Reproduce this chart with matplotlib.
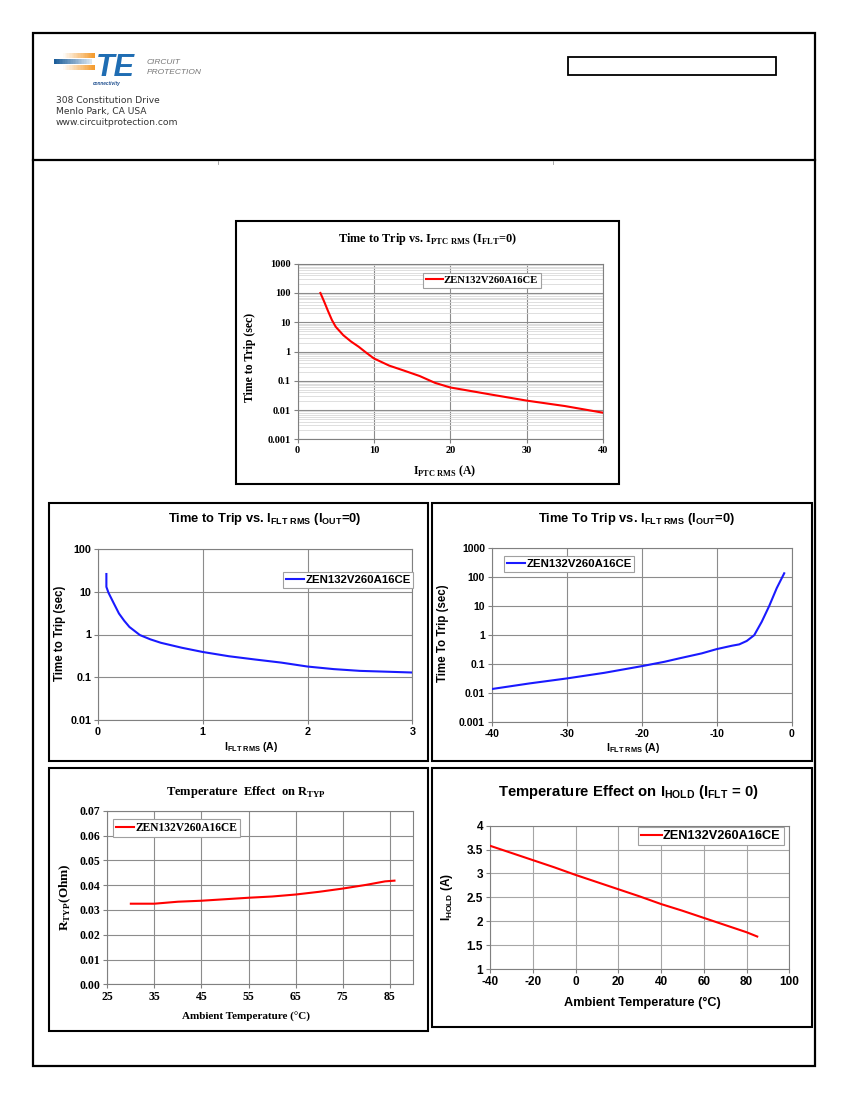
import matplotlib
matplotlib.use('Agg')
import matplotlib.pyplot as plt
from matplotlib.patches import Rectangle
from matplotlib.ticker import LogLocator, NullFormatter, FixedLocator
import numpy as np

plt.rcParams['axes.unicode_minus'] = False

W, H = 850, 1100

# ---------------- data ----------------
ptc_current = [3.0, 3.5, 4.0, 4.5, 5, 6, 7, 8, 9, 10, 12, 14, 16, 18, 20, 22, 25, 30, 35, 40]
ptc_time = [100, 50, 24, 12, 7.0, 3.6, 2.2, 1.46, 0.91, 0.58, 0.33, 0.22, 0.145, 0.085,
            0.059, 0.048, 0.035, 0.021, 0.0137, 0.0081]

flt_pos_current = [0.08, 0.08, 0.1, 0.15, 0.2, 0.25, 0.3, 0.4, 0.5, 0.6, 0.8, 1.0, 1.25,
                   1.5, 1.75, 2.0, 2.25, 2.5, 2.75, 3.0]
flt_pos_time = [26, 13, 9.5, 5.4, 3.1, 2.1, 1.5, 0.97, 0.77, 0.64, 0.49, 0.39, 0.31,
                0.26, 0.22, 0.178, 0.155, 0.141, 0.135, 0.129]

flt_neg_current = [-40, -35, -30, -25, -20, -17, -15, -12, -10, -8, -7, -6, -5, -4, -3, -2, -1]
flt_neg_time = [0.0138, 0.0215, 0.032, 0.05, 0.085, 0.12, 0.158, 0.235, 0.33, 0.43, 0.48,
                0.63, 1.0, 2.9, 10.2, 42, 137]

temp_r = [30, 35, 40, 45, 50, 55, 60, 65, 70, 75, 80, 84, 86]
r_typ = [0.0325, 0.0325, 0.0333, 0.0337, 0.0343, 0.0349, 0.0354, 0.0362, 0.0373, 0.0386,
         0.0401, 0.0415, 0.0418]

temp_i = [-40, -30, -20, -10, 0, 10, 20, 30, 40, 50, 60, 70, 80, 85]
i_hold = [3.58, 3.43, 3.28, 3.13, 2.97, 2.82, 2.67, 2.52, 2.36, 2.22, 2.07, 1.92, 1.77, 1.68]

part_name = 'ZEN132V260A16CE'

log_ticks_6 = [0.001, 0.01, 0.1, 1, 10, 100, 1000]
log_labels_6 = ['0.001', '0.01', '0.1', '1', '10', '100', '1000']
log_ticks_4 = [0.01, 0.1, 1, 10, 100]
log_labels_4 = ['0.01', '0.1', '1', '10', '100']

SERIF = 'Liberation Serif'
SANS = 'Liberation Sans'
RED = '#ff0000'
BLUE = '#1a1aff'
GRID = '#8c8c8c'
SPINE = '#808080'

fig = plt.figure(figsize=(W / 100, H / 100), dpi=100)
fig.patch.set_facecolor('white')

bg = fig.add_axes([0, 0, 1, 1], zorder=0)
bg.set_xlim(0, W)
bg.set_ylim(H, 0)
bg.axis('off')


def rect(x0, y0, x1, y1, lw=1.5, ec='black'):
    bg.add_patch(Rectangle((x0, y0), x1 - x0, y1 - y0, fill=False, lw=lw, ec=ec))


def add_ax(x0, y0, x1, y1):
    ax = fig.add_axes([x0 / W, 1 - y1 / H, (x1 - x0) / W, (y1 - y0) / H], zorder=2)
    ax.set_facecolor('white')
    for s in ax.spines.values():
        s.set_color(SPINE)
        s.set_linewidth(0.8)
    return ax, (x0, y0, x1, y1)


def style_ticks(ax, family, size):
    ax.tick_params(labelsize=size, length=3, width=0.8, color=SPINE, pad=2)
    for lab in ax.get_xticklabels() + ax.get_yticklabels():
        lab.set_fontfamily(family)
        lab.set_fontweight('bold')


def place_legend(ax, box, lx, ly, family, size):
    x0, y0, x1, y1 = box
    fx = (lx - x0) / (x1 - x0)
    fy = (y1 - ly) / (y1 - y0)
    leg = ax.legend(loc='upper left', bbox_to_anchor=(fx, fy), borderaxespad=0,
                    fancybox=False, framealpha=1, edgecolor='#a0a0a0',
                    prop={'family': family, 'weight': 'bold', 'size': size},
                    handlelength=1.6, handletextpad=0.1, borderpad=0.25)
    leg.get_frame().set_linewidth(0.8)
    return leg


# ---------------- page ----------------
rect(33, 33, 815, 1066, lw=1.6)
bg.plot([33, 815], [160, 160], color='black', lw=1.6)
bg.plot([218, 218], [161, 164], color='#999999', lw=0.6)
bg.plot([553, 553], [161, 164], color='#999999', lw=0.6)
rect(568, 57, 776, 75, lw=1.3)


def stripe(x0, x1, y0, y1, c0, c1, n=24):
    c0 = np.array(matplotlib.colors.to_rgb(c0))
    c1 = np.array(matplotlib.colors.to_rgb(c1))
    w = (x1 - x0) / n
    for i in range(n):
        t = i / (n - 1)
        bg.add_patch(Rectangle((x0 + i * w, y0), w + 0.3, y1 - y0, lw=0,
                               fc=tuple(c0 * (1 - t) + c1 * t)))


stripe(62, 95, 53, 57.5, '#ffffff', '#f39a2c')
stripe(54, 92, 59, 63.5, '#1c5d99', '#d9e6f2')
stripe(62, 95, 65, 69.5, '#ffffff', '#f39a2c')
bg.text(96, 75.5, 'TE', family=SANS, weight='bold', style='italic', size=22,
        color='#1f6db3', ha='left', va='baseline')
bg.text(147, 62, 'CIRCUIT', family=SANS, style='italic', size=6, color='#777777',
        ha='left', va='center')
bg.text(147, 72.5, 'PROTECTION', family=SANS, style='italic', size=6, color='#777777',
        ha='left', va='center')
bg.text(93, 83, 'connectivity', family=SANS, style='italic', weight='bold', size=3.4,
        color='#1f4f8f', ha='left', va='center')
for i, line in enumerate(['308 Constitution Drive', 'Menlo Park, CA USA',
                          'www.circuitprotection.com']):
    bg.text(56, 100.5 + i * 11.2, line, family='DejaVu Sans', size=6.6, color='#333333',
            ha='left', va='center')

# ---------------- chart 1: top ----------------
rect(236, 221, 619, 484, lw=1.5)
ax1, b1 = add_ax(297.5, 263.7, 603, 439.3)
ax1.set_yscale('log')
ax1.plot(ptc_current, ptc_time, color=RED, lw=1.5, label=part_name, zorder=3)
ax1.set_xlim(0, 40)
ax1.set_ylim(0.001, 1000)
ax1.set_xticks([0, 10, 20, 30, 40])
ax1.set_yticks(log_ticks_6, log_labels_6)
ax1.yaxis.set_minor_locator(LogLocator(base=10, subs=range(2, 10), numticks=20))
ax1.yaxis.set_minor_formatter(NullFormatter())
ax1.grid(True, which='minor', axis='y', color='#d9d9d9', lw=0.6)
ax1.grid(True, which='major', color=GRID, lw=0.8)
ax1.tick_params(which='minor', length=0)
ax1.set_axisbelow(True)
style_ticks(ax1, SERIF, 7.5)
place_legend(ax1, b1, 423, 273, SERIF, 7.7)
bg.text(428, 239, r'Time to Trip vs. I$_{\mathregular{PTC\ RMS}}$ (I$_{\mathregular{FLT}}$=0)',
        family=SERIF, weight='bold', size=8.8, ha='center', va='center')
bg.text(250, 357, 'Time to Trip (sec)', family=SERIF, weight='bold', size=8.5,
        rotation=90, ha='center', va='center')
bg.text(445, 471, r'I$_{\mathregular{PTC\ RMS}}$ (A)', family=SERIF, weight='bold', size=8.5,
        ha='center', va='center')

# ---------------- chart 2: middle left ----------------
rect(49, 503, 428, 761, lw=1.5)
ax2, b2 = add_ax(98, 549, 412.3, 720)
ax2.set_yscale('log')
ax2.plot(flt_pos_current, flt_pos_time, color=BLUE, lw=1.5, label=part_name, zorder=3)
ax2.set_xlim(0, 3)
ax2.set_ylim(0.01, 100)
ax2.set_xticks([0, 1, 2, 3])
ax2.set_yticks(log_ticks_4, log_labels_4)
ax2.yaxis.set_minor_locator(FixedLocator([]))
ax2.grid(True, which='major', color=GRID, lw=0.8)
ax2.set_axisbelow(True)
style_ticks(ax2, SANS, 7.8)
place_legend(ax2, b2, 283, 572, SANS, 8.2)
bg.text(265, 519, r'Time to Trip vs. I$_{\mathregular{FLT\ RMS}}$ (I$_{\mathregular{OUT}}$=0)',
        family=SANS, weight='bold', size=9.3, ha='center', va='center')
bg.text(60, 633, 'Time to Trip (sec)', family=SANS, weight='bold', size=8.3,
        rotation=90, ha='center', va='center')
bg.text(251, 747, r'I$_{\mathregular{FLT\ RMS}}$ (A)', family=SANS, weight='bold', size=7.6,
        ha='center', va='center')

# ---------------- chart 3: middle right ----------------
rect(432, 503, 812, 761, lw=1.5)
ax3, b3 = add_ax(492, 548.3, 791.7, 722)
ax3.set_yscale('log')
ax3.plot(flt_neg_current, flt_neg_time, color=BLUE, lw=1.5, label=part_name, zorder=3)
ax3.set_xlim(-40, 0)
ax3.set_ylim(0.001, 1000)
ax3.set_xticks([-40, -30, -20, -10, 0])
ax3.set_yticks(log_ticks_6, log_labels_6)
ax3.yaxis.set_minor_locator(FixedLocator([]))
ax3.grid(True, which='major', color=GRID, lw=0.8)
ax3.set_axisbelow(True)
style_ticks(ax3, SANS, 7.5)
place_legend(ax3, b3, 504, 556, SANS, 8.2)
bg.text(637, 519, r'Time To Trip vs. I$_{\mathregular{FLT\ RMS}}$ (I$_{\mathregular{OUT}}$=0)',
        family=SANS, weight='bold', size=9.3, ha='center', va='center')
bg.text(443, 633, 'Time To Trip (sec)', family=SANS, weight='bold', size=8.3,
        rotation=90, ha='center', va='center')
bg.text(633, 748, r'I$_{\mathregular{FLT\ RMS}}$ (A)', family=SANS, weight='bold', size=7.6,
        ha='center', va='center')

# ---------------- chart 4: bottom left ----------------
rect(49, 768, 428, 1031, lw=1.5)
ax4, b4 = add_ax(107.3, 810.7, 413.3, 984.3)
ax4.plot(temp_r, r_typ, color=RED, lw=1.5, label=part_name, zorder=3)
ax4.set_xlim(25, 90)
ax4.set_ylim(0, 0.07)
ax4.set_xticks([25, 35, 45, 55, 65, 75, 85])
ax4.set_yticks([0, 0.01, 0.02, 0.03, 0.04, 0.05, 0.06, 0.07],
               ['0.00', '0.01', '0.02', '0.03', '0.04', '0.05', '0.06', '0.07'])
ax4.grid(True, color=GRID, lw=0.8)
ax4.set_axisbelow(True)
style_ticks(ax4, SERIF, 8.5)
place_legend(ax4, b4, 113, 819, SERIF, 8.3)
bg.text(246, 792, r'Temperature  Effect  on R$_{\mathregular{TYP}}$',
        family=SERIF, weight='bold', size=9, ha='center', va='center')
bg.text(65, 897, r'R$_{\mathregular{TYP}}$(Ohm)', family=SERIF, weight='bold', size=9.5,
        rotation=90, ha='center', va='center')
bg.text(246, 1017, 'Ambient Temperature (\u00b0C)', family=SERIF, weight='bold', size=8,
        ha='center', va='center')

# ---------------- chart 5: bottom right ----------------
rect(432, 768, 812, 1027, lw=1.5)
ax5, b5 = add_ax(490, 825.7, 789.3, 969)
ax5.plot(temp_i, i_hold, color=RED, lw=1.5, label=part_name, zorder=3)
ax5.set_xlim(-40, 100)
ax5.set_ylim(1, 4)
ax5.set_xticks([-40, -20, 0, 20, 40, 60, 80, 100])
ax5.set_yticks([1, 1.5, 2, 2.5, 3, 3.5, 4], ['1', '1.5', '2', '2.5', '3', '3.5', '4'])
ax5.grid(True, color='#a6a6a6', lw=0.8)
ax5.set_axisbelow(True)
style_ticks(ax5, SANS, 8.5)
place_legend(ax5, b5, 638, 827, SANS, 9.2)
bg.text(628, 792, r'Temperature Effect on I$_{\mathregular{HOLD}}$ (I$_{\mathregular{FLT}}$ = 0)',
        family=SANS, weight='bold', size=10.7, ha='center', va='center')
bg.text(447, 897, r'I$_{\mathregular{HOLD}}$ (A)', family=SANS, weight='bold', size=8.5,
        rotation=90, ha='center', va='center')
bg.text(642, 1003, 'Ambient Temperature (\u00b0C)', family=SANS, weight='bold', size=9.2,
        ha='center', va='center')

fig.savefig('out.png', dpi=100, facecolor='white')
